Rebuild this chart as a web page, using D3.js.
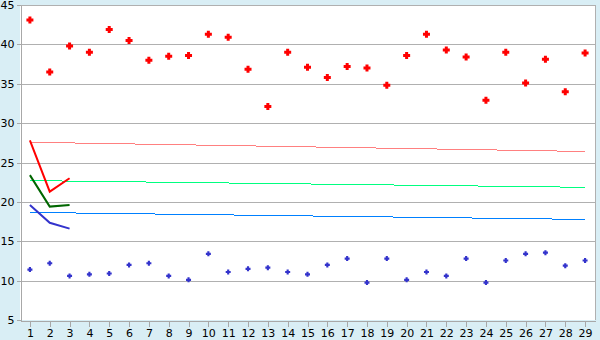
<!DOCTYPE html>
<html>
<head>
<meta charset="utf-8">
<script src="https://cdn.jsdelivr.net/npm/d3@7.9.0/dist/d3.min.js"></script>
<style>
  html, body { margin: 0; padding: 0; background: #d9eef5; }
  svg { display: block; font-family: "DejaVu Sans", Verdana, sans-serif; }
</style>
</head>
<body>
<svg id="chart" width="600" height="340"></svg>
<script>
// === Data ===
const categories = d3.range(1, 30);
const yTicks = [5, 10, 15, 20, 25, 30, 35, 40, 45];

const redPoints = [43.1, 36.5, 39.8, 39.0, 41.9, 40.5, 38.0, 38.5, 38.6, 41.3,
  40.9, 36.85, 32.1, 39.0, 37.1, 35.8, 37.2, 37.0, 34.8, 38.6,
  41.3, 39.3, 38.4, 32.9, 39.0, 35.1, 38.1, 34.0, 38.9];
const bluePoints = [11.4, 12.2, 10.6, 10.8, 10.9, 12.0, 12.2, 10.6, 10.1, 13.4,
  11.1, 11.5, 11.65, 11.1, 10.8, 12.0, 12.8, 9.75, 12.8, 10.1,
  11.1, 10.6, 12.8, 9.75, 12.55, 13.4, 13.55, 11.9, 12.55];

// short lines over the first three categories
const redLine = [27.8, 21.3, 23.0];
const greenLine = [23.4, 19.4, 19.6];
const blueLine = [19.6, 17.35, 16.6];

// pale trend lines: value at first and last category
const trendCats = [1, 29];
const pinkTrend = [27.57, 26.4];
const mintTrend = [22.7, 21.85];
const skyTrend = [18.66, 17.77];

// === Setup ===
const svg = d3.select('#chart');
const plotLeft = 20, plotRight = 595, plotTop = 5, plotBottom = 320;

const x = d3.scalePoint().domain(categories).range([plotLeft, plotRight]).padding(0.5);
const y = d3.scaleLinear().domain([5, 45]).range([plotBottom, plotTop]);

// chunky plus marker: size = full extent squared, arms 3/7 of extent
const chunkyPlus = {
  draw(context, size) {
    const e = Math.sqrt(size) / 2;
    const a = e * 3 / 7;
    context.moveTo(-a, -e);
    context.lineTo(a, -e);
    context.lineTo(a, -a);
    context.lineTo(e, -a);
    context.lineTo(e, a);
    context.lineTo(a, a);
    context.lineTo(a, e);
    context.lineTo(-a, e);
    context.lineTo(-a, a);
    context.lineTo(-e, a);
    context.lineTo(-e, -a);
    context.lineTo(-a, -a);
    context.closePath();
  }
};

// plot background
svg.append('rect')
  .attr('x', plotLeft).attr('y', plotTop)
  .attr('width', plotRight - plotLeft).attr('height', plotBottom - plotTop)
  .attr('fill', '#fff');

// gridlines
svg.append('g')
  .selectAll('line')
  .data(yTicks.filter((d) => d > 5))
  .join('line')
  .attr('x1', plotLeft).attr('x2', plotRight)
  .attr('y1', (d) => Math.round(y(d)) + 0.5)
  .attr('y2', (d) => Math.round(y(d)) + 0.5)
  .attr('stroke', '#b0b0b0')
  .attr('shape-rendering', 'crispEdges');

// right border
svg.append('line')
  .attr('x1', plotRight + 0.5).attr('x2', plotRight + 0.5)
  .attr('y1', plotTop).attr('y2', plotBottom)
  .attr('stroke', '#b0b0b0')
  .attr('shape-rendering', 'crispEdges');

// === Axes ===
const yAxis = svg.append('g')
  .attr('transform', `translate(${plotLeft + 0.5},0)`)
  .call(d3.axisLeft(y).tickValues(yTicks).tickSize(4).tickPadding(2).tickSizeOuter(0));
const xAxis = svg.append('g')
  .attr('transform', `translate(0,${plotBottom + 0.5})`)
  .call(d3.axisBottom(x).tickSize(6).tickPadding(3).tickSizeOuter(0));

[yAxis, xAxis].forEach((g) => {
  g.selectAll('path, line').attr('stroke', '#a8a8a8').attr('shape-rendering', 'crispEdges');
  g.selectAll('text').attr('fill', '#000').style('font-size', '11px')
    .style('font-family', '"DejaVu Sans", Verdana, sans-serif');
});

// === Trend lines ===
const trendGen = d3.line().x((d, i) => x(trendCats[i])).y((d) => y(d));
[[pinkTrend, '#ff8080'], [mintTrend, '#00ff80'], [skyTrend, '#0080ff']].forEach(([data, color]) => {
  svg.append('path')
    .attr('d', trendGen(data))
    .attr('fill', 'none')
    .attr('stroke', color)
    .attr('stroke-width', 1)
    .attr('shape-rendering', 'crispEdges');
});

// === Short lines ===
const lineGen = d3.line().x((d, i) => x(categories[i])).y((d) => y(d));
[[redLine, '#ff0000'], [greenLine, '#006600'], [blueLine, '#3333cc']].forEach(([data, color]) => {
  svg.append('path')
    .attr('d', lineGen(data))
    .attr('fill', 'none')
    .attr('stroke', color)
    .attr('stroke-width', 2);
});

// === Scatter markers ===
svg.append('g')
  .selectAll('path')
  .data(redPoints)
  .join('path')
  .attr('transform', (d, i) => `translate(${x(categories[i])},${y(d)})`)
  .attr('d', d3.symbol(chunkyPlus, 49))
  .attr('fill', '#ff0000');

svg.append('g')
  .selectAll('path')
  .data(bluePoints)
  .join('path')
  .attr('transform', (d, i) => `translate(${x(categories[i])},${y(d)})`)
  .attr('d', d3.symbol(chunkyPlus, 25))
  .attr('fill', '#3333cc');
</script>
</body>
</html>
